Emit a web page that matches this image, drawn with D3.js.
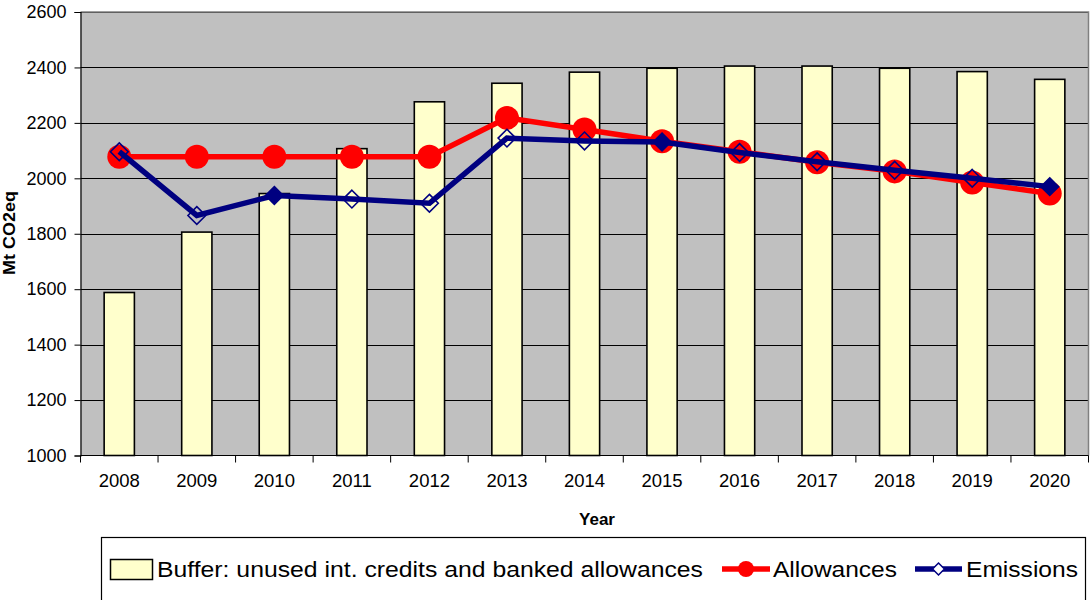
<!DOCTYPE html>
<html><head><meta charset="utf-8">
<script src="https://cdn.jsdelivr.net/npm/d3@7"></script>
<style>body{margin:0;background:#fff;} text{font-family:"Liberation Sans",Arial,sans-serif;}</style>
</head><body><svg id="c" width="1090" height="600"></svg>
<script>
const years = ["2008","2009","2010","2011","2012","2013","2014","2015","2016","2017","2018","2019","2020"];
const buffer = [1588,1806,1945,2107,2276,2343,2383,2397,2405,2405,2397,2385,2357];
const allowances = [2078,2078,2078,2078,2078,2218,2176,2134,2096,2058,2025,1985,1945];
const emissions = [2096,1866,1938,1925,1910,2145,2135,2131,2093,2060,2029,2000,1970];
const emissionsFilled = [false,false,true,false,false,false,false,true,false,false,false,false,true];
const yTicks = [1000,1200,1400,1600,1800,2000,2200,2400,2600];

const svg = d3.select("#c");
const L=80.5, R=1088.5, T=12, B=455.5;
const x = d3.scaleBand().domain(years).range([L,R]).paddingInner(0.61).paddingOuter(0.305);
const xc = d => x(d)+x.bandwidth()/2;
const y = d3.scaleLinear().domain([1000,2600]).range([B,T]);

svg.append("rect").attr("x",L).attr("y",T).attr("width",R-L).attr("height",B-T).attr("fill","#C0C0C0");
svg.append("g").selectAll("line").data(yTicks.slice(1)).join("line")
  .attr("x1",L).attr("x2",R).attr("y1",d=>Math.round(y(d))+0.5).attr("y2",d=>Math.round(y(d))+0.5)
  .attr("stroke","#000").attr("stroke-width",1);
svg.append("path").attr("d",`M${L},${T}H${R}V${B}`).attr("fill","none").attr("stroke","#808080").attr("stroke-width",1.5);

svg.append("g").selectAll("rect").data(years).join("rect")
  .attr("x",d=>x(d)).attr("width",x.bandwidth())
  .attr("y",(d,i)=>y(buffer[i])).attr("height",(d,i)=>B-y(buffer[i]))
  .attr("fill","#FFFFCC").attr("stroke","#000").attr("stroke-width",1.6);

const yAxis = d3.axisLeft(y).tickValues(yTicks).tickFormat(d3.format("d")).tickSize(6).tickPadding(8);
const gy = svg.append("g").attr("transform",`translate(${L},0)`).call(yAxis);
gy.select(".domain").attr("stroke","#000").attr("stroke-width",1.2);
gy.selectAll("text").attr("font-size","18px").attr("fill","#000").attr("font-family","Liberation Sans, Arial, sans-serif");

const xTickScale = d3.scaleLinear().domain([0,13]).range([L,R]);
svg.append("line").attr("x1",L).attr("x2",R).attr("y1",B).attr("y2",B).attr("stroke","#000").attr("stroke-width",1.2);
svg.append("g").selectAll("line").data(d3.range(14)).join("line")
  .attr("x1",d=>xTickScale(d)).attr("x2",d=>xTickScale(d)).attr("y1",B).attr("y2",B+7).attr("stroke","#000");
svg.append("g").selectAll("text").data(years).join("text")
  .attr("x",d=>xc(d)).attr("y",487).attr("text-anchor","middle").attr("font-size","18.5px").text(d=>d);

svg.append("text").attr("x",597).attr("y",525).attr("text-anchor","middle").attr("font-size","17px").attr("font-weight","bold").text("Year");
svg.append("text").attr("transform","translate(15,233) rotate(-90)").attr("text-anchor","middle").attr("font-size","16px").attr("font-weight","bold")
  .attr("textLength",84).attr("lengthAdjust","spacingAndGlyphs").text("Mt CO2eq");

const line = d3.line().x((d,i)=>xc(years[i])).y(d=>y(d));
svg.append("path").datum(allowances).attr("d",line).attr("fill","none").attr("stroke","#FF0000").attr("stroke-width",5.5);
svg.append("g").selectAll("circle").data(allowances).join("circle")
  .attr("cx",(d,i)=>xc(years[i])).attr("cy",d=>y(d)).attr("r",12).attr("fill","#FF0000");
svg.append("path").datum(emissions).attr("d",line).attr("fill","none").attr("stroke","#000080").attr("stroke-width",5.5);
const dia = d3.symbol().type(d3.symbolDiamond2).size(200);
svg.append("g").selectAll("path").data(emissions).join("path")
  .attr("transform",(d,i)=>`translate(${xc(years[i])},${y(d)})`).attr("d",dia)
  .attr("fill",(d,i)=>emissionsFilled[i]?"#000080":"none").attr("stroke","#000080").attr("stroke-width",1.6);

const lg = svg.append("g");
lg.append("rect").attr("x",101.5).attr("y",537.5).attr("width",984).attr("height",70).attr("fill","#fff").attr("stroke","#000").attr("stroke-width",1.2);
lg.append("rect").attr("x",110.5).attr("y",559.5).attr("width",42).attr("height",20).attr("fill","#FFFFCC").attr("stroke","#000").attr("stroke-width",1.5);
lg.append("text").attr("x",157).attr("y",577).attr("font-size","22px").attr("textLength",546).attr("lengthAdjust","spacingAndGlyphs").text("Buffer: unused int. credits and banked allowances");
lg.append("line").attr("x1",722).attr("x2",770).attr("y1",569).attr("y2",569).attr("stroke","#FF0000").attr("stroke-width",5.5);
lg.append("circle").attr("cx",746).attr("cy",569).attr("r",8).attr("fill","#FF0000");
lg.append("text").attr("x",773).attr("y",577).attr("font-size","22px").attr("textLength",124).attr("lengthAdjust","spacingAndGlyphs").text("Allowances");
lg.append("line").attr("x1",915).attr("x2",962).attr("y1",569).attr("y2",569).attr("stroke","#000080").attr("stroke-width",5.5);
lg.append("path").attr("transform","translate(938.5,569)").attr("d",d3.symbol().type(d3.symbolDiamond2).size(90)).attr("fill","#fff").attr("stroke","#000080").attr("stroke-width",1.5);
lg.append("text").attr("x",966).attr("y",577).attr("font-size","22px").attr("textLength",112).attr("lengthAdjust","spacingAndGlyphs").text("Emissions");
</script></body></html>
